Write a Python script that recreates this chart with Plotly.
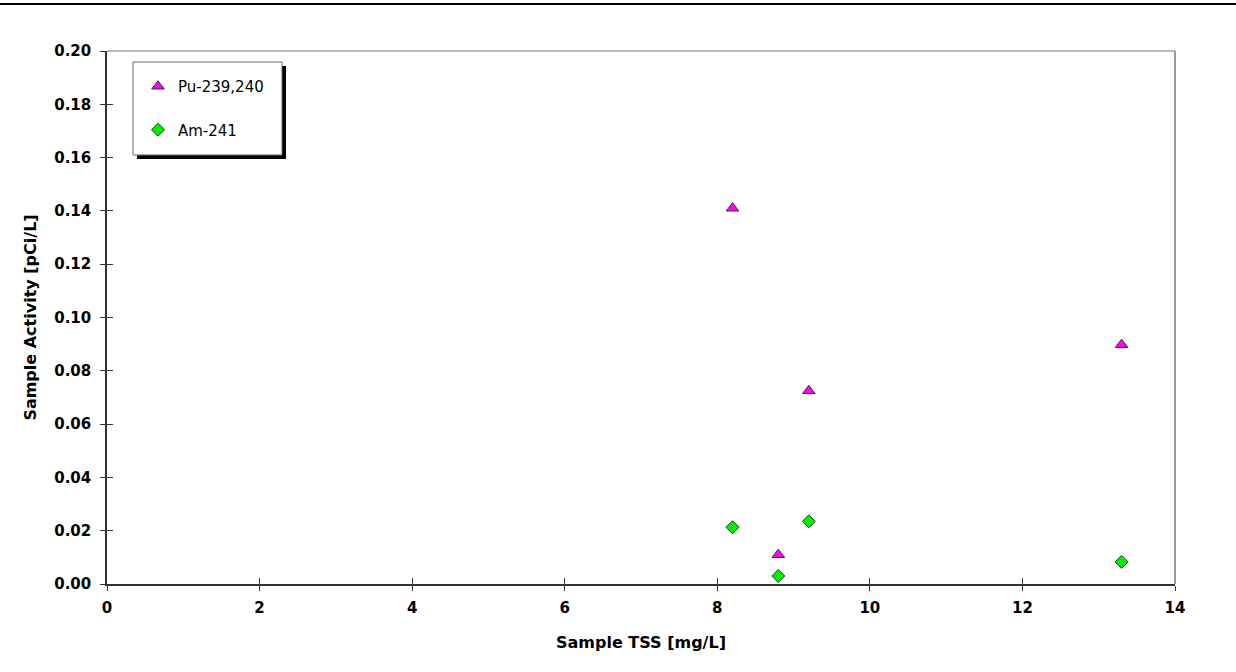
import plotly.graph_objects as go

tss = [8.2, 9.2, 8.8, 13.3]
pu = [0.141, 0.0725, 0.011, 0.0898]
am = [0.0213, 0.0235, 0.003, 0.0083]
x_ticks = [0, 2, 4, 6, 8, 10, 12, 14]
y_ticks = [0.00, 0.02, 0.04, 0.06, 0.08, 0.10, 0.12, 0.14, 0.16, 0.18, 0.20]

W, H = 1236, 672
L, R, T, B = 107, 61, 51, 88
pw, ph = W - L - R, H - T - B

BOLD = "DejaVu Sans"

fig = go.Figure()
fig.add_trace(go.Scatter(x=tss, y=pu, mode="markers", name="Pu-239,240", legendgroup="pu",
                         marker=dict(symbol="triangle-up", size=11, color="#ff00ff",
                                     line=dict(color="#333333", width=1))))
fig.add_trace(go.Scatter(x=tss, y=am, mode="markers", name="Am-241", legendgroup="am",
                         xaxis="x2", yaxis="y2",
                         marker=dict(symbol="diamond", size=10, color="#00ee00",
                                     line=dict(color="#333333", width=1))))

tickfont = dict(family=BOLD, size=15, color="black", weight="bold")
common = dict(showgrid=False, zeroline=False, showline=True, linecolor="#333333",
              linewidth=1.5, tickwidth=1)

fig.update_layout(
    width=W, height=H,
    margin=dict(l=L, r=R, t=T, b=B),
    paper_bgcolor="white", plot_bgcolor="white",
    font=dict(family="DejaVu Sans", color="black"),
    xaxis=dict(range=[0, 14], tickvals=x_ticks, ticktext=[str(v) for v in x_ticks],
               ticks="outside", ticklen=5, tickcolor="#333333",
               tickfont=tickfont, ticklabelstandoff=4,
               title=dict(text="Sample TSS [mg/L]", standoff=21,
                          font=dict(size=16, weight="bold", family=BOLD)),
               **common),
    yaxis=dict(range=[0, 0.2], tickvals=y_ticks, ticktext=[f"{v:.2f}" for v in y_ticks],
               ticks="outside", ticklen=5, tickcolor="#333333",
               tickfont=tickfont, ticklabelstandoff=6,
               title=dict(text="Sample Activity [pCi/L]", standoff=14,
                          font=dict(size=16, weight="bold", family=BOLD)),
               **common),
    xaxis2=dict(range=[0, 14], tickvals=x_ticks, overlaying="x", anchor="y2", side="bottom",
                ticks="inside", ticklen=6, tickcolor="#333333", showticklabels=False, **common),
    yaxis2=dict(range=[0, 0.2], tickvals=y_ticks, overlaying="y", anchor="x2", side="left",
                ticks="inside", ticklen=6, tickcolor="#333333", showticklabels=False, **common),
    legend=dict(x=(138 - L) / pw, y=1 - (70 - T) / ph, xanchor="left", yanchor="top",
                bgcolor="rgba(0,0,0,0)", borderwidth=0,
                font=dict(size=15, family="DejaVu Sans"),
                tracegroupgap=21, itemwidth=30),
    showlegend=True,
)

# frame top/right
fig.add_shape(type="line", xref="paper", yref="paper", x0=0, x1=1, y0=1, y1=1,
              line=dict(color="#777777", width=1))
fig.add_shape(type="line", xref="paper", yref="paper", x0=1, x1=1, y0=0, y1=1,
              line=dict(color="#333333", width=1))
# legend shadow and box
fig.add_shape(type="rect", xref="paper", yref="paper",
              x0=(137 - L) / pw, x1=(286 - L) / pw,
              y0=1 - (159 - T) / ph, y1=1 - (66 - T) / ph,
              fillcolor="black", line=dict(width=0), layer="below")
fig.add_shape(type="rect", xref="paper", yref="paper",
              x0=(133 - L) / pw, x1=(282 - L) / pw,
              y0=1 - (155 - T) / ph, y1=1 - (62 - T) / ph,
              fillcolor="white", line=dict(color="#666666", width=1), layer="below")
# top page rule
fig.add_shape(type="line", xref="paper", yref="paper",
              x0=-L / pw, x1=1 + R / pw, y0=1 + (T - 4) / ph, y1=1 + (T - 4) / ph,
              line=dict(color="black", width=2))

fig.write_html("out.html")
